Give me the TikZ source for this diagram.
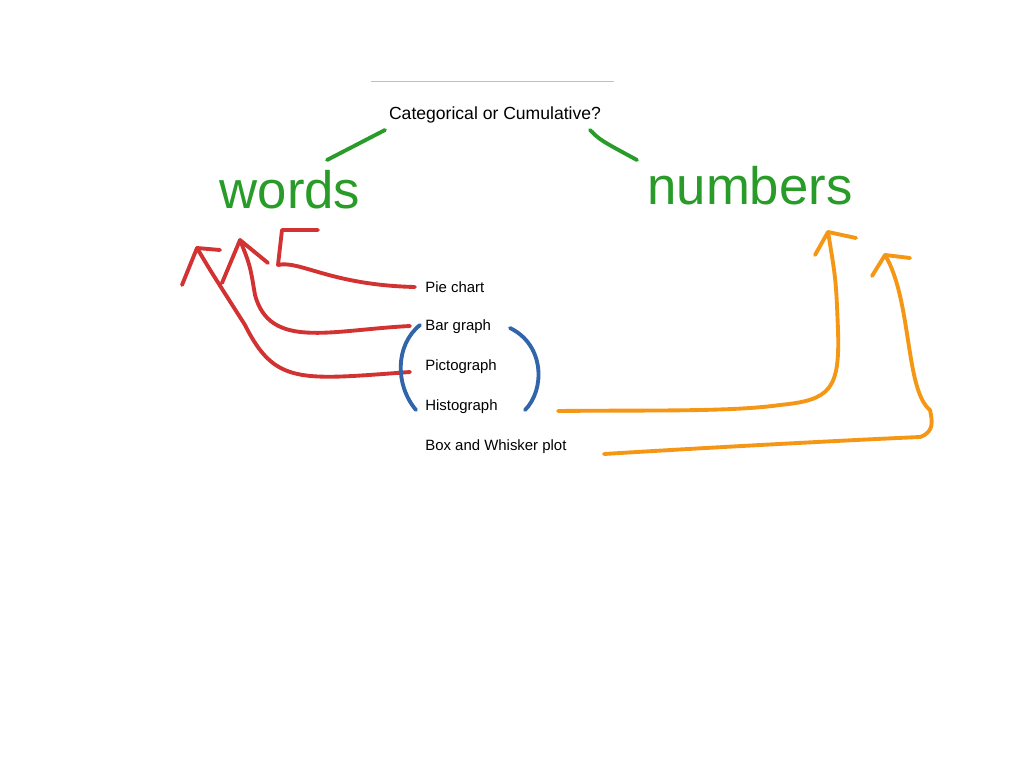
\documentclass[tikz,border=0pt]{standalone}
\usepackage{fontspec}
\setmainfont{Liberation Sans}
\usetikzlibrary{positioning}
\definecolor{pengreen}{RGB}{40,155,40}
\definecolor{penred}{RGB}{210,50,50}
\definecolor{penblue}{RGB}{50,100,170}
\definecolor{penorange}{RGB}{245,150,20}
\tikzset{item/.style={anchor=west, font=\fontsize{8.5}{10}\selectfont, inner sep=0pt},
  pen/.style={line width=2.2pt, line cap=round, line join=round},
  hand/.style={font=\fontsize{30}{32}\selectfont, text=pengreen}}
\begin{document}
\begin{tikzpicture}[x=0.02cm,y=-0.02cm]
		\useasboundingbox[fill=white] (0,0) rectangle (1024,768);
		\draw[gray!50] (371,81) -- (614,81);
		\node[font=\fontsize{10}{12}\selectfont] (title) at (495,115) {Categorical or Cumulative?};
		\node[hand] (words) at (290,190) {words};
		\node[hand] (numbers) at (750,186) {numbers};
		% chart list
		\node[item] (pie) at (425,287) {Pie chart};
		\node[item] (bar) at (425,327) {Bar graph};
		\node[item] (picto) at (425,367) {Pictograph};
		\node[item] (histo) at (425,407) {Histograph};
		\node[item] (box) at (425,447) {Box and Whisker plot};
		% green strokes
		\draw[pen,pengreen] (385,130) -- (327,160);
		\draw[pen,pengreen] (590,130) .. controls (600,140) .. (637,160);
		% red arrows
		\draw[pen,penred] (415,287) .. controls (330,285) and (300,260) .. (278,265) -- (282,230) -- (318,230);
		\draw[pen,penred] (410,326) .. controls (330,330) and (270,350) .. (255,295) .. controls (250,265) .. (240,240) -- (222,283);
		\draw[pen,penred] (240,240) -- (268,263);
		\draw[pen,penred] (410,372) .. controls (300,380) and (275,385) .. (245,325) .. controls (210,270) .. (197,248) -- (182,285);
		\draw[pen,penred] (197,248) -- (220,250);
		% blue brackets
		\draw[pen,penblue] (420,325) .. controls (395,345) and (395,385) .. (416,410);
		\draw[pen,penblue] (510,328) .. controls (545,345) and (545,390) .. (525,410);
		% orange arrows
		\draw[pen,penorange] (558,411) .. controls (650,410) and (730,412) .. (780,405) .. controls (830,400) and (840,390) .. (838,330) .. controls (836,280) .. (828,232) -- (815,255);
		\draw[pen,penorange] (828,232) -- (856,238);
		\draw[pen,penorange] (604,454) .. controls (700,448) and (850,440) .. (920,437) .. controls (935,432) and (932,420) .. (930,410) .. controls (905,390) and (912,300) .. (885,255) -- (872,276);
		\draw[pen,penorange] (885,255) -- (910,258);
\end{tikzpicture}
\end{document}
